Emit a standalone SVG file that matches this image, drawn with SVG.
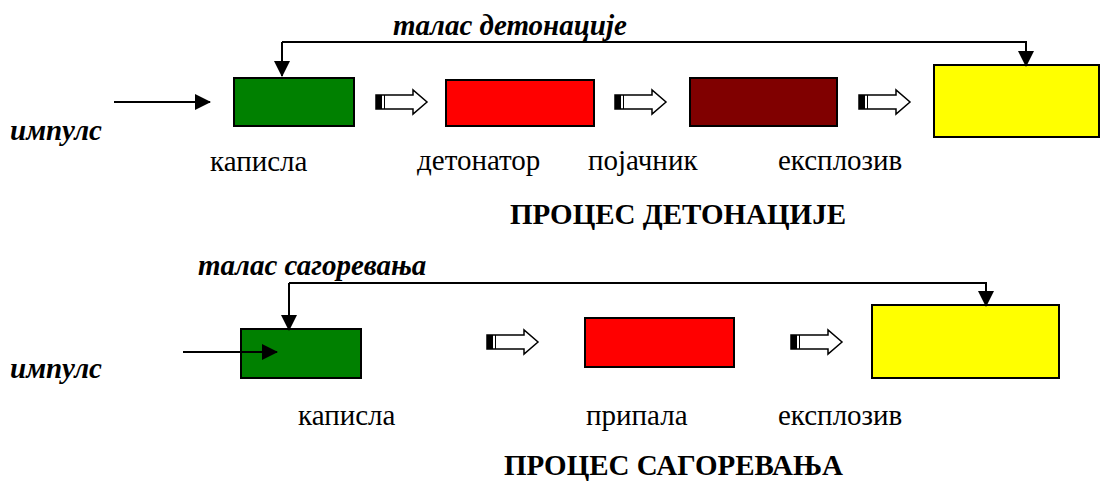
<svg xmlns="http://www.w3.org/2000/svg" width="1110" height="481" viewBox="0 0 1110 481">
  <style>
    .box { stroke: #000; stroke-width: 2; }
    .line { fill: none; stroke: #000; stroke-width: 2; }
    .em { font-weight: bold; font-style: italic; }
    .title { font-weight: bold; }
  </style>
  <defs>
    <marker id="head" markerWidth="16" markerHeight="16" refX="15" refY="8" orient="auto" markerUnits="userSpaceOnUse">
      <path d="M0,0 L16,8 L0,16 Z" fill="#000"/>
    </marker>
    <!-- hollow block arrow used between stages -->
    <g id="flow">
      <path d="M0,-7 L37,-7 L37,-12 L51,0 L37,12 L37,7 L0,7 Z" fill="#fff" stroke="#000" stroke-width="1.5"/>
      <rect x="0" y="-7" width="6" height="14" fill="#000"/>
      <line x1="8.5" y1="-7" x2="8.5" y2="7" stroke="#000" stroke-width="1"/>
    </g>
  </defs>

  <rect width="1110" height="481" fill="#fff"/>

  <!-- detonation chain -->
  <g id="kapisla1"><rect class="box" x="234" y="78" width="120" height="48" fill="#008000"/></g>
  <g id="detonator"><rect class="box" x="446" y="80" width="148" height="46" fill="#ff0000"/></g>
  <g id="pojacnik"><rect class="box" x="690" y="78" width="147" height="48" fill="#800000"/></g>
  <g id="eksploziv1"><rect class="box" x="934" y="65" width="165" height="72" fill="#ffff00"/></g>

  <!-- combustion chain -->
  <g id="kapisla2"><rect class="box" x="241" y="329" width="120" height="49" fill="#008000"/></g>
  <g id="pripala"><rect class="box" x="585" y="318" width="149" height="49" fill="#ff0000"/></g>
  <g id="eksploziv2"><rect class="box" x="872" y="305" width="187" height="73" fill="#ffff00"/></g>

  <g id="connectors">
    <line class="line" x1="114" y1="102" x2="210" y2="102" marker-end="url(#head)"/>
    <polyline class="line" points="282,42 1026,42 1026,66" marker-end="url(#head)"/>
    <path class="line" d="M282,42 L282,76" marker-end="url(#head)"/>
    <use href="#flow" x="376" y="102"/>
    <use href="#flow" x="615" y="102"/>
    <use href="#flow" x="859" y="102"/>

    <line class="line" x1="183" y1="352" x2="277" y2="352" marker-end="url(#head)"/>
    <polyline class="line" points="289,283 986,283 986,306" marker-end="url(#head)"/>
    <path class="line" d="M289,283 L289,330" marker-end="url(#head)"/>
    <use href="#flow" x="487" y="342"/>
    <use href="#flow" x="791" y="342"/>
  </g>

  <g id="labels" font-family="'Liberation Serif', 'DejaVu Serif', serif" font-size="29" fill="#000">
    <text class="em" x="393" y="35">талас детонације</text>
    <text class="em" x="10" y="140">импулс</text>
    <text x="210" y="171">каписла</text>
    <text x="417" y="170">детонатор</text>
    <text x="588" y="170">појачник</text>
    <text x="778" y="170">експлозив</text>
    <text class="title" x="510" y="224">ПРОЦЕС ДЕТОНАЦИЈЕ</text>

    <text class="em" x="198" y="275">талас сагоревања</text>
    <text class="em" x="10" y="378">импулс</text>
    <text x="298" y="425">каписла</text>
    <text x="586" y="425">припала</text>
    <text x="778" y="425">експлозив</text>
    <text class="title" x="504" y="475">ПРОЦЕС САГОРЕВАЊА</text>
  </g>
</svg>
